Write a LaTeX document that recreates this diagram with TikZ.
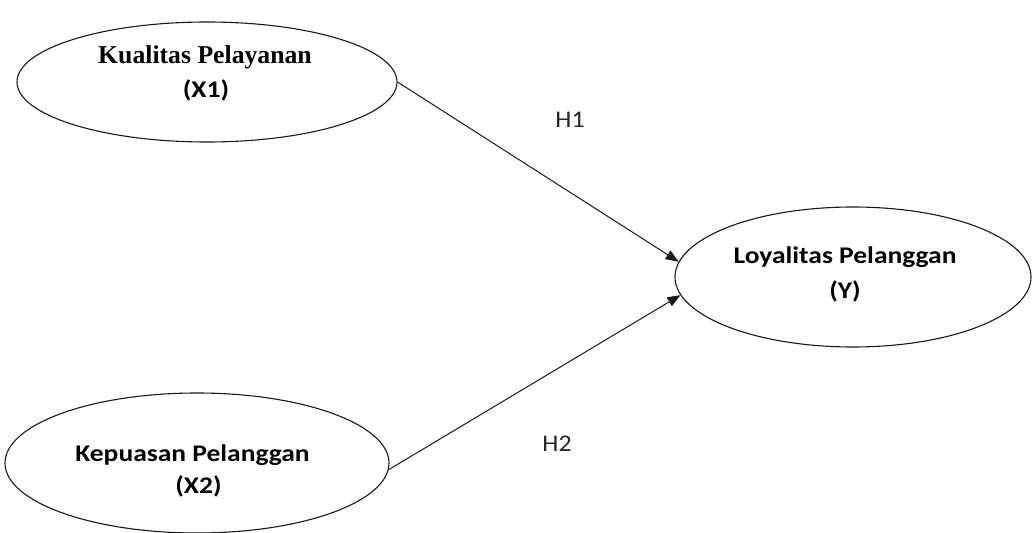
\documentclass[tikz,border=0pt]{standalone}
\usepackage{fontspec}
\setmainfont{Carlito}
\newfontfamily\timesfont{Liberation Serif}
\usetikzlibrary{shapes.geometric,arrows.meta}
\tikzset{
  oval/.style={draw=black!90, line width=1.1bp, ellipse, inner sep=0pt},
  lbl/.style={anchor=base, inner sep=0pt, font=\fontsize{24}{28}\selectfont\bfseries},
  serif/.style={anchor=base, inner sep=0pt, font=\fontsize{25.8}{30}\selectfont\bfseries\timesfont},
  hyp/.style={anchor=base, inner sep=0pt, text=black!85, font=\fontsize{24}{28}\selectfont},
  arr/.style={draw=black!90, line width=1bp, -{Triangle[length=13bp,width=10bp]}}
}
\newcommand{\wide}[1]{\scalebox{1.15}[1]{#1}}
\begin{document}
\begin{tikzpicture}[x=1bp,y=-1bp]
\useasboundingbox[fill=white] (0,0) rectangle (1033,533);
\node[oval, minimum width=380bp, minimum height=120bp] (x1) at (207,82) {};
\node[oval, minimum width=356bp, minimum height=140bp] (y) at (853,277) {};
\node[oval, minimum width=384bp, minimum height=140bp] (x2) at (197,463) {};
\node[serif] (tx1a) at (205,64) {Kualitas Pelayanan};
\node[lbl] (tx1b) at (206,98) {\wide{(X1)}};
\node[lbl] (tya) at (845,264) {\wide{Loyalitas Pelanggan}};
\node[lbl] (tyb) at (845,299) {\wide{(Y)}};
\node[lbl] (tx2a) at (192.5,461) {\wide{Kepuasan Pelanggan}};
\node[lbl] (tx2b) at (198.5,493) {\wide{(X2)}};
\draw[arr] (x1.east) -- (y.175);
\draw[arr] (x2.-2) -- (y.186);
\node[hyp] (h1) at (570,128) {\scalebox{1.08}[1]{H1}};
\node[hyp] (h2) at (557,451.5) {\scalebox{1.08}[1]{H2}};
\end{tikzpicture}
\end{document}
